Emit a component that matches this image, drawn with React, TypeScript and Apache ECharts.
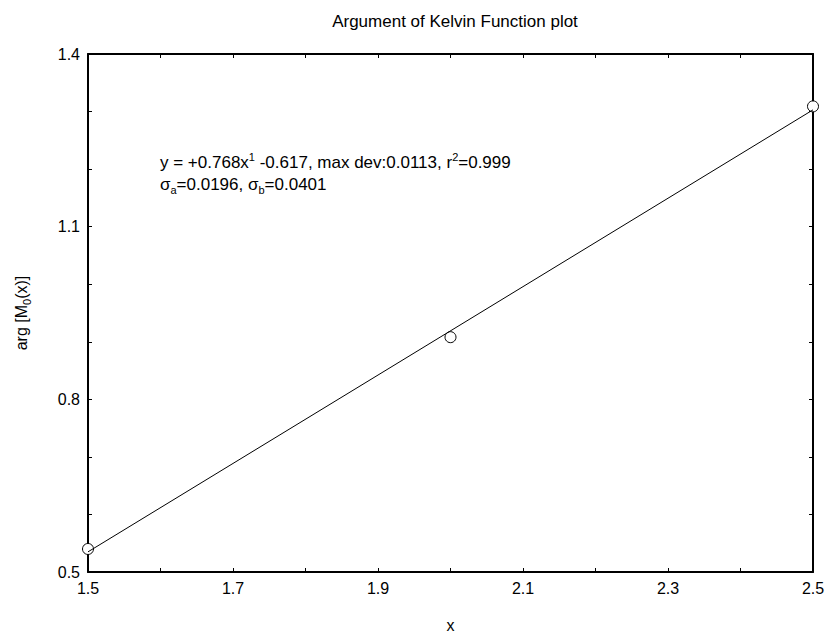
import React, { useEffect, useRef } from "react";
import * as echarts from "echarts";

const pointsX = [1.5, 2.0, 2.5];
const pointsY = [0.54, 0.908, 1.309];
const fitX = [1.5, 2.5];
const fitY = [0.535, 1.303];

const titleText = "Argument of Kelvin Function plot";
const xName = "x";
const yName = "arg [M{sub|0}(x)]";
const fitLine1 = "y = +0.768x{sup|1} -0.617, max dev:0.0113, r{sup|2}=0.999";
const fitLine2 = "σ{sub|a}=0.0196, σ{sub|b}=0.0401";

const FONT = "'Liberation Sans', Arial, Helvetica, sans-serif";

export default function App() {
  const ref = useRef<HTMLDivElement>(null);
  useEffect(() => {
    if (!ref.current) return;
    const chart = echarts.init(ref.current, null, { renderer: "svg" });
    const xLabel = (v: number) => {
      const k = Math.round(v * 10);
      return k % 2 === 1 ? v.toFixed(1) : "";
    };
    const yLabel = (v: number) => {
      const k = Math.round(v * 10);
      return (k - 5) % 3 === 0 ? v.toFixed(1) : "";
    };
    const axisCommon = {
      axisLine: { show: true, onZero: false, lineStyle: { color: "#000", width: 2 } },
      axisTick: { show: true, inside: true, length: 4, lineStyle: { color: "#000", width: 1 } },
      splitLine: { show: false },
    };
    chart.setOption({
      animation: false,
      backgroundColor: "#fff",
      textStyle: { fontFamily: FONT },
      title: {
        text: titleText,
        left: 450,
        textAlign: "center",
        top: 8,
        textStyle: { fontFamily: FONT, fontSize: 17, fontWeight: "normal", color: "#000" },
      },
      grid: { left: 88, right: 15, top: 54, bottom: 61 },
      xAxis: [
        {
          type: "value",
          min: 1.5,
          max: 2.5,
          interval: 0.1,
          position: "bottom",
          name: xName,
          nameLocation: "middle",
          nameGap: 45,
          nameTextStyle: { fontFamily: FONT, fontSize: 16, color: "#000" },
          axisLabel: { formatter: xLabel, fontFamily: FONT, fontSize: 16, color: "#000", margin: 8, showMinLabel: true, showMaxLabel: true },
          ...axisCommon,
        },
        {
          type: "value",
          min: 1.5,
          max: 2.5,
          interval: 0.1,
          position: "top",
          axisLabel: { show: false },
          ...axisCommon,
        },
      ],
      yAxis: [
        {
          type: "value",
          min: 0.5,
          max: 1.4,
          interval: 0.1,
          position: "left",
          name: yName,
          nameLocation: "middle",
          nameGap: 56,
          nameRotate: 90,
          nameTextStyle: {
            fontFamily: FONT,
            fontSize: 16,
            color: "#000",
            rich: {
              sub: { fontFamily: FONT, fontSize: 11, color: "#000", padding: [10, 0, 0, 0] },
            },
          },
          axisLabel: { formatter: yLabel, fontFamily: FONT, fontSize: 16, color: "#000", margin: 8, showMinLabel: true, showMaxLabel: true },
          ...axisCommon,
        },
        {
          type: "value",
          min: 0.5,
          max: 1.4,
          interval: 0.1,
          position: "right",
          axisLabel: { show: false },
          ...axisCommon,
        },
      ],
      graphic: [
        {
          type: "text",
          left: 160,
          top: 151,
          style: {
            text: fitLine1 + "\n" + fitLine2,
            fontFamily: FONT,
            fontSize: 17,
            lineHeight: 22,
            fill: "#000",
            rich: {
              sup: { fontFamily: FONT, fontSize: 11, fill: "#000", padding: [0, 0, 11, 0] },
              sub: { fontFamily: FONT, fontSize: 11, fill: "#000", padding: [11, 0, 0, 0] },
            },
          },
        },
      ],
      series: [
        {
          type: "line",
          data: fitX.map((x, i) => [x, fitY[i]]),
          showSymbol: false,
          symbol: "none",
          lineStyle: { color: "#000", width: 1 },
          silent: true,
          clip: true,
        },
        {
          type: "scatter",
          data: pointsX.map((x, i) => [x, pointsY[i]]),
          symbol: "circle",
          symbolSize: 11,
          itemStyle: { color: "#fff", borderColor: "#000", borderWidth: 1, opacity: 1 },
          clip: false,
        },
      ],
    });
    return () => chart.dispose();
  }, []);
  return (
    <div
      ref={ref}
      style={{ position: "fixed", left: 0, top: 0, width: 828, height: 638, background: "#fff" }}
    />
  );
}
